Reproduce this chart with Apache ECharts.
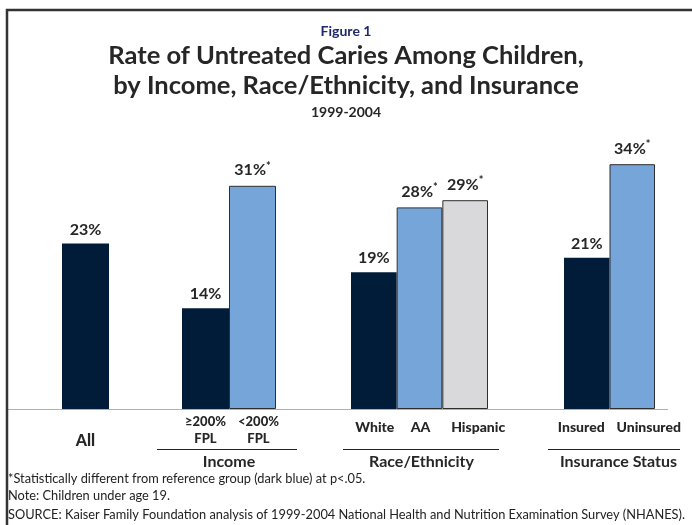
<!DOCTYPE html>
<html><head><meta charset="utf-8">
<script src="https://cdn.jsdelivr.net/npm/echarts@6/dist/echarts.min.js"></script>
<style>html,body{margin:0;padding:0;background:#fff}#c{width:692px;height:525px}</style>
</head><body><div id="c"></div>
<script>
// ---- data ----
const allCats = ['All'];
const allVals = [23];
const allSig = [false];
const incomeCats = ['≥200%\nFPL', '<200%\nFPL'];
const incomeVals = [14, 31];
const incomeSig = [false, true];
const raceCats = ['White', 'AA', 'Hispanic'];
const raceVals = [19, 28, 29];
const raceSig = [false, true, true];
const insCats = ['Insured', 'Uninsured'];
const insVals = [21, 34];
const insSig = [false, true];
const groupNames = ['', 'Income', 'Race/Ethnicity', 'Insurance Status'];
const titleLines = ['Rate of Untreated Caries Among Children,', 'by Income, Race/Ethnicity, and Insurance'];
const footnotes = [
  '*Statistically different from reference group (dark blue) at p<.05.',
  'Note: Children under age 19.',
  'SOURCE: Kaiser Family Foundation analysis of 1999-2004 National Health and Nutrition Examination Survey (NHANES).'
];

// ---- styles ----
const FONT = 'Lato, "Open Sans", sans-serif';
const DARK = '#001c38', LIGHT = '#76a5da', GRAY = '#d9d9db';
const groups = [
  {cats: allCats, vals: allVals, sig: allSig, colors: [DARK], left: 62, width: 47, margin: 23, size: 16, shift: [0], nameShift: 0},
  {cats: incomeCats, vals: incomeVals, sig: incomeSig, colors: [DARK, LIGHT], left: 182, width: 94, margin: 4, size: 13, shift: [0, 12], nameShift: 0},
  {cats: raceCats, vals: raceVals, sig: raceSig, colors: [DARK, LIGHT, GRAY], left: 351, width: 137, margin: 10, size: 14, shift: [2, 2, 26], nameShift: 4},
  {cats: insCats, vals: insVals, sig: insSig, colors: [DARK, LIGHT], left: 564, width: 91, margin: 10, size: 14, shift: [-11, 33], nameShift: 18}
];
const BASE = 409, TOPY = 157;

const grid = [], xAxis = [], yAxis = [], series = [];
groups.forEach((g, i) => {
  grid.push({left: g.left, width: g.width, top: TOPY, bottom: 525 - BASE});
  const rich = {};
  g.shift.forEach((s, j) => {
    rich['c' + j] = {
      fontFamily: FONT, fontWeight: 900, fontSize: g.size, color: '#262626', lineHeight: 17, align: 'center',
      padding: s >= 0 ? [0, 0, 0, s] : [0, -s, 0, 0]
    };
  });
  xAxis.push({
    type: 'category', gridIndex: i, data: g.cats,
    axisLine: {show: false}, axisTick: {show: false},
    axisLabel: {
      margin: g.margin, interval: 0,
      fontFamily: FONT, fontWeight: 900, fontSize: g.size, color: '#262626',
      formatter: (v, j) => v.split('\n').map(t => '{c' + j + '|' + t + '}').join('\n'),
      rich
    },
    name: groupNames[i], nameLocation: 'middle', nameGap: 45,
    nameTextStyle: {fontFamily: FONT, fontWeight: 'bold', fontSize: 16, color: '#262626', padding: [0, 0, 0, g.nameShift]}
  });
  yAxis.push({type: 'value', gridIndex: i, min: 0, max: 35, show: false, splitLine: {show: false}});
  series.push({
    type: 'bar', xAxisIndex: i, yAxisIndex: i, barCategoryGap: '0%', barWidth: '100%',
    data: g.vals.map((v, j) => ({
      value: v,
      sig: g.sig[j],
      itemStyle: {color: g.colors[j], borderColor: '#2f2f2f', borderWidth: g.colors[j] === DARK ? 0 : 1}
    })),
    label: {
      show: true, position: 'top', distance: 6,
      formatter: p => p.data.sig ? '{v|' + p.value + '%}{s|*}' : '{v|' + p.value + '%}',
      rich: {
        v: {fontFamily: FONT, fontWeight: 'bold', fontSize: 16, color: '#262626'},
        s: {fontFamily: FONT, fontWeight: 'bold', fontSize: 11, color: '#262626', verticalAlign: 'top', padding: [0, 0, 8, 0]}
      }
    }
  });
});

const graphic = [
  {type: 'rect', shape: {x: 7, y: 10, width: 720, height: 560}, style: {fill: 'none', stroke: '#333', lineWidth: 2.5}, z: 10},
  {type: 'line', shape: {x1: 8, y1: 409.5, x2: 668, y2: 409.5}, style: {stroke: '#b0b0b0', lineWidth: 1}},
  {type: 'line', shape: {x1: 157, y1: 449.5, x2: 297, y2: 449.5}, style: {stroke: '#222', lineWidth: 1.2}},
  {type: 'line', shape: {x1: 343, y1: 449.5, x2: 499, y2: 449.5}, style: {stroke: '#222', lineWidth: 1.2}},
  {type: 'line', shape: {x1: 548, y1: 449.5, x2: 680, y2: 449.5}, style: {stroke: '#222', lineWidth: 1.2}}
];
footnotes.forEach((t, i) => {
  graphic.push({type: 'text', left: 8, top: [472, 489, 508][i], style: {text: t, font: '12.8px ' + FONT, fill: '#222'}});
});

const chart = echarts.init(document.getElementById('c'), null, {renderer: 'canvas'});
chart.setOption({
  animation: false,
  title: [
    {text: 'Figure 1', left: 'center', top: 19, textStyle: {fontFamily: FONT, fontWeight: 'bold', fontSize: 14, color: '#1f2a6b'}},
    {text: titleLines[0], left: 'center', top: 38, textStyle: {fontFamily: FONT, fontWeight: 'bold', fontSize: 25.5, color: '#262626'}},
    {text: titleLines[1], left: 'center', top: 68, textStyle: {fontFamily: FONT, fontWeight: 'bold', fontSize: 25.5, color: '#262626'}},
    {text: '1999-2004', left: 'center', top: 100, textStyle: {fontFamily: FONT, fontWeight: 'bold', fontSize: 14, color: '#262626'}}
  ],
  grid, xAxis, yAxis, series, graphic
});
</script></body></html>
